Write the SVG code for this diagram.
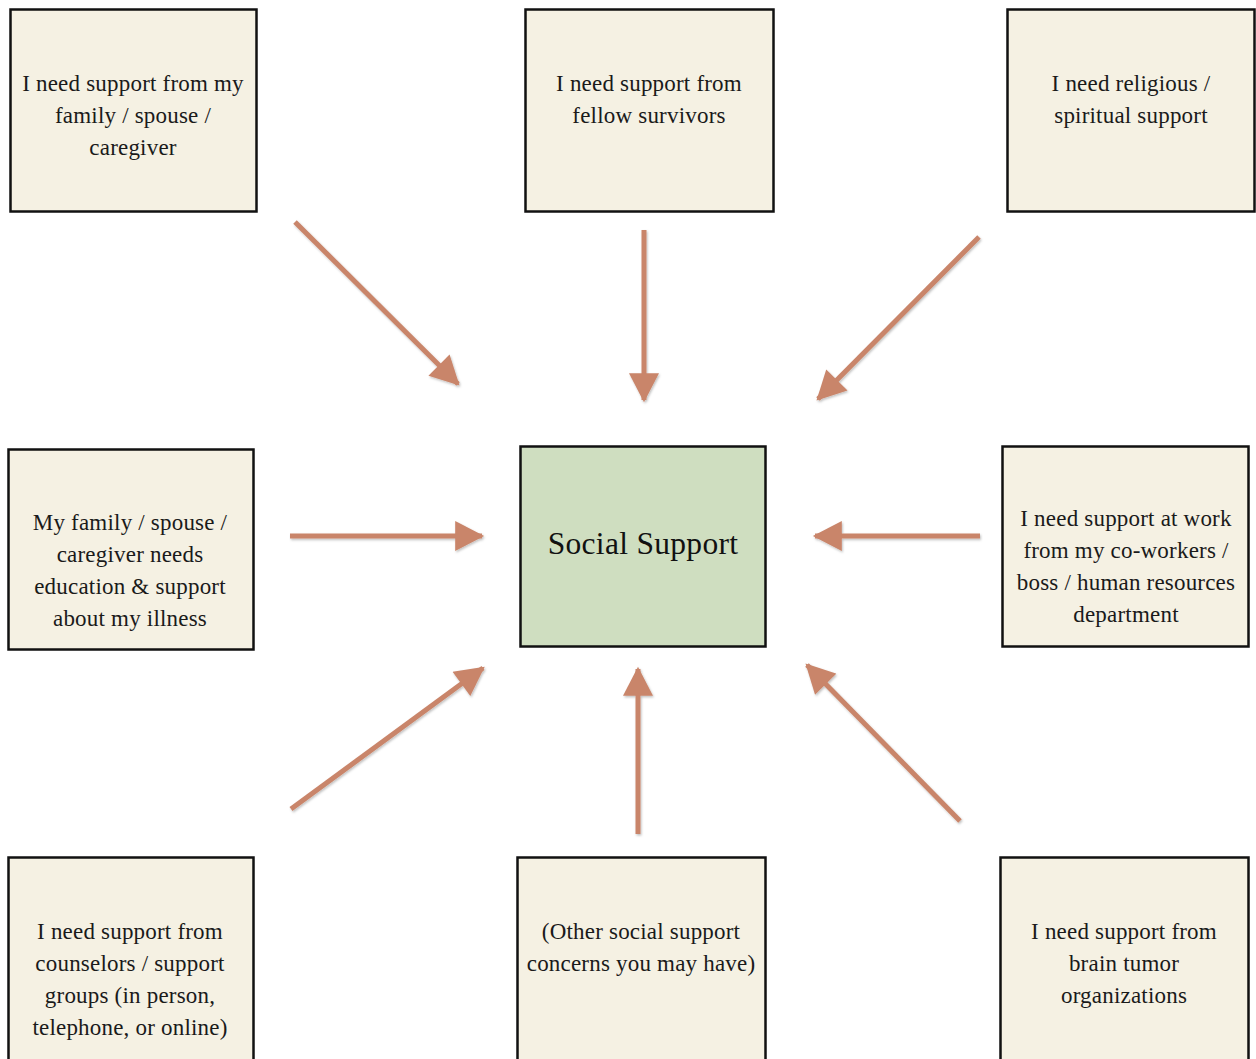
<svg xmlns="http://www.w3.org/2000/svg" width="1256" height="1059" viewBox="0 0 1256 1059">
  <style>
    .box { fill: #f5f1e3; stroke: #111; stroke-width: 2.5; }
    .hub { fill: #cfdec0; stroke: #111; stroke-width: 2.5; }
    .lbl { font-family: "Liberation Serif", "Times New Roman", serif; font-size: 23px; letter-spacing: 0.2px; fill: #1a1a1a; text-anchor: middle; }
    .hubtxt { font-family: "Liberation Serif", "Times New Roman", serif; font-size: 31.5px; letter-spacing: 0.3px; fill: #111; text-anchor: middle; }
    .arrow { stroke: #c9856a; stroke-width: 5; fill: none; marker-end: url(#head); }
  </style>
  <defs>
    <marker id="head" markerUnits="userSpaceOnUse" markerWidth="30" markerHeight="30" viewBox="0 0 27 28" refX="25" refY="14" orient="auto">
      <path d="M0,0 L27,14 L0,28 Z" fill="#c9856a"/>
    </marker>
    <filter id="soft" x="-10%" y="-10%" width="120%" height="120%">
      <feDropShadow dx="1" dy="1.5" stdDeviation="1.2" flood-color="#000" flood-opacity="0.25"/>
    </filter>
  </defs>

  <rect width="1256" height="1059" fill="#fff"/>

  <!-- connectors: every outer concern points to the hub -->
  <g id="connectors" filter="url(#soft)">
    <line class="arrow" x1="295" y1="222" x2="458" y2="384"/>
    <line class="arrow" x1="644" y1="230" x2="644" y2="400"/>
    <line class="arrow" x1="979" y1="237" x2="818" y2="399"/>
    <line class="arrow" x1="290" y1="536" x2="482" y2="536"/>
    <line class="arrow" x1="980" y1="536" x2="815" y2="536"/>
    <line class="arrow" x1="291" y1="809" x2="483" y2="668"/>
    <line class="arrow" x1="638" y1="834" x2="638" y2="669"/>
    <line class="arrow" x1="960" y1="821" x2="807" y2="665"/>
  </g>

  <g id="hub">
    <rect class="hub" x="520.5" y="446.5" width="245" height="200"/>
    <text class="hubtxt" x="643" y="554">Social Support</text>
  </g>

  <g id="family">
    <rect class="box" x="10.5" y="9.5" width="246" height="202"/>
    <text class="lbl"><tspan x="133" y="91">I need support from my</tspan><tspan x="133" y="123">family / spouse /</tspan><tspan x="133" y="155">caregiver</tspan></text>
  </g>

  <g id="survivors">
    <rect class="box" x="525.5" y="9.5" width="248" height="202"/>
    <text class="lbl"><tspan x="649" y="91">I need support from</tspan><tspan x="649" y="123">fellow survivors</tspan></text>
  </g>

  <g id="religious">
    <rect class="box" x="1007.5" y="9.5" width="247" height="202"/>
    <text class="lbl"><tspan x="1131" y="91">I need religious /</tspan><tspan x="1131" y="123">spiritual support</tspan></text>
  </g>

  <g id="caregiver-education">
    <rect class="box" x="8.5" y="449.5" width="245" height="200"/>
    <text class="lbl"><tspan x="130" y="530">My family / spouse /</tspan><tspan x="130" y="562">caregiver needs</tspan><tspan x="130" y="594">education &amp; support</tspan><tspan x="130" y="626">about my illness</tspan></text>
  </g>

  <g id="work">
    <rect class="box" x="1002.5" y="446.5" width="246" height="200"/>
    <text class="lbl"><tspan x="1126" y="526">I need support at work</tspan><tspan x="1126" y="558">from my co-workers /</tspan><tspan x="1126" y="590">boss / human resources</tspan><tspan x="1126" y="622">department</tspan></text>
  </g>

  <g id="counselors">
    <rect class="box" x="8.5" y="857.5" width="245" height="204"/>
    <text class="lbl"><tspan x="130" y="939">I need support from</tspan><tspan x="130" y="971">counselors / support</tspan><tspan x="130" y="1003">groups (in person,</tspan><tspan x="130" y="1035">telephone, or online)</tspan></text>
  </g>

  <g id="other">
    <rect class="box" x="517.5" y="857.5" width="248" height="204"/>
    <text class="lbl"><tspan x="641" y="939">(Other social support</tspan><tspan x="641" y="971">concerns you may have)</tspan></text>
  </g>

  <g id="organizations">
    <rect class="box" x="1000.5" y="857.5" width="248" height="204"/>
    <text class="lbl"><tspan x="1124" y="939">I need support from</tspan><tspan x="1124" y="971">brain tumor</tspan><tspan x="1124" y="1003">organizations</tspan></text>
  </g>
</svg>
